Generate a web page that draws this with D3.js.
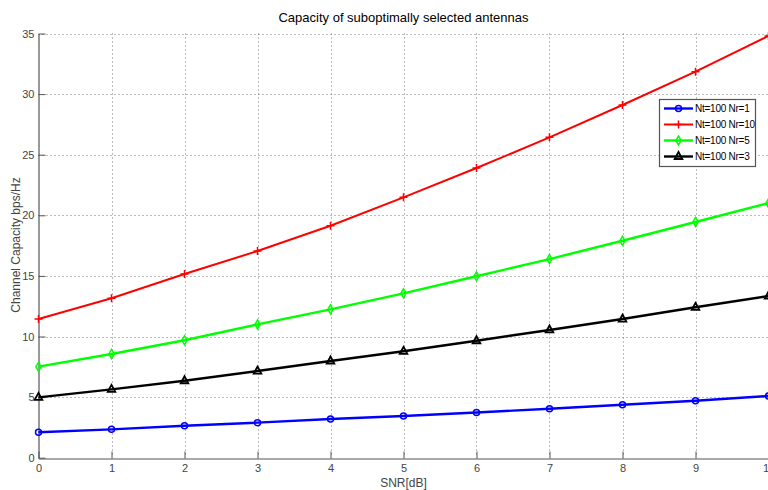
<!DOCTYPE html>
<html>
<head>
<meta charset="utf-8">
<script src="https://cdn.jsdelivr.net/npm/d3@7"></script>
<style>
  html, body { margin: 0; padding: 0; background: #fff; overflow: hidden; }
  svg { display: block; font-family: "Liberation Sans", Arial, sans-serif; }
</style>
</head>
<body>
<script>
// data
const snr = [0, 1, 2, 3, 4, 5, 6, 7, 8, 9, 10];
const nr1 = [2.10, 2.34, 2.64, 2.89, 3.19, 3.44, 3.73, 4.04, 4.37, 4.70, 5.09];
const nr10 = [11.44, 13.15, 15.16, 17.05, 19.14, 21.48, 23.9, 26.43, 29.1, 31.85, 34.8];
const nr5 = [7.51, 8.56, 9.69, 11.0, 12.24, 13.56, 14.97, 16.39, 17.9, 19.45, 21.0];
const nr3 = [4.98, 5.64, 6.35, 7.15, 7.98, 8.78, 9.65, 10.54, 11.44, 12.41, 13.34];
const seriesNames = ["Nt=100 Nr=1", "Nt=100 Nr=10", "Nt=100 Nr=5", "Nt=100 Nr=3"];
const xTicks = [0, 1, 2, 3, 4, 5, 6, 7, 8, 9, 10];
const yTicks = [0, 5, 10, 15, 20, 25, 30, 35];

const width = 768, height = 490;
const svg = d3.select("body").append("svg")
              .attr("width", width)
              .attr("height", height);

const x = d3.scaleLinear().domain([0, 10]).range([38.5, 768.5]),
      y = d3.scaleLinear().domain([0, 35]).range([457.7, 33.5]);

const series = [
  {name: seriesNames[0], values: nr1, color: "#0000ff", marker: "circle", lw: 2.4},
  {name: seriesNames[1], values: nr10, color: "#ff0000", marker: "plus", lw: 2},
  {name: seriesNames[2], values: nr5, color: "#00ff00", marker: "diamond", lw: 2.4},
  {name: seriesNames[3], values: nr3, color: "#000000", marker: "triangle", lw: 2.4}
];

// grid
const grid = svg.append("g").attr("class", "grid")
                .attr("stroke", "#777").attr("stroke-width", 1)
                .attr("stroke-dasharray", "1,3");
grid.selectAll("line.gx").data(xTicks.slice(1)).join("line")
    .attr("x1", d => Math.round(x(d)) + 0.5).attr("x2", d => Math.round(x(d)) + 0.5)
    .attr("y1", y(35)).attr("y2", y(0));
grid.selectAll("line.gy").data(yTicks.slice(1)).join("line")
    .attr("x1", x(0)).attr("x2", x(10))
    .attr("y1", d => Math.round(y(d)) + 0.5).attr("y2", d => Math.round(y(d)) + 0.5);

// axes (ticks point inward)
const xAxis = svg.append("g")
  .attr("transform", "translate(0," + (Math.round(y(0)) + 0.5) + ")")
  .call(d3.axisBottom(x).tickValues(xTicks).tickSize(-7).tickPadding(6).tickSizeOuter(0));
const yAxis = svg.append("g")
  .attr("transform", "translate(" + x(0) + ",0)")
  .call(d3.axisLeft(y).tickValues(yTicks).tickSize(-7).tickPadding(4).tickSizeOuter(0));

[xAxis, yAxis].forEach(a => {
  a.select(".domain").attr("stroke", "#555").attr("stroke-width", 1.2);
  a.selectAll(".tick line").attr("stroke", "#555");
  a.selectAll(".tick text").attr("fill", "#444")
   .style("font-family", "'Liberation Sans', Arial, sans-serif")
   .style("font-size", "11px");
});

// lines
const line = d3.line().x((d, i) => x(snr[i])).y(d => y(d));

function drawMarker(g, type, cx, cy, color) {
  if (type === "circle") {
    g.append("circle").attr("cx", cx).attr("cy", cy).attr("r", 3)
     .attr("fill", "none").attr("stroke", color).attr("stroke-width", 1.5);
  } else if (type === "plus") {
    g.append("path").attr("d", `M${cx - 4},${cy}H${cx + 4}M${cx},${cy - 4}V${cy + 4}`)
     .attr("stroke", color).attr("stroke-width", 1.5);
  } else if (type === "diamond") {
    g.append("path").attr("d", `M${cx},${cy - 4.5}L${cx + 2.6},${cy}L${cx},${cy + 4.5}L${cx - 2.6},${cy}Z`)
     .attr("fill", "none").attr("stroke", color).attr("stroke-width", 1.5);
  } else {
    g.append("path").attr("d", `M${cx},${cy - 4.5}L${cx + 3.8},${cy + 2.5}L${cx - 3.8},${cy + 2.5}Z`)
     .attr("fill", "none").attr("stroke", color).attr("stroke-width", 1.8);
  }
}

series.forEach(s => {
  const g = svg.append("g");
  g.append("path").attr("d", line(s.values))
   .attr("fill", "none").attr("stroke", s.color).attr("stroke-width", s.lw);
  s.values.forEach((v, i) => drawMarker(g, s.marker, x(snr[i]), y(v), s.color));
});

// title and labels
svg.append("text").attr("x", 403.5).attr("y", 22).attr("text-anchor", "middle")
   .attr("font-size", 13).attr("fill", "#000")
   .text("Capacity of suboptimally selected antennas");
svg.append("text").attr("x", 403.5).attr("y", 487).attr("text-anchor", "middle")
   .attr("font-size", 12).attr("fill", "#444").text("SNR[dB]");
svg.append("text").attr("transform", "translate(20,245) rotate(-90)")
   .attr("text-anchor", "middle").attr("font-size", 12).attr("fill", "#444")
   .text("Channel Capacity bps/Hz");

// legend
const legend = svg.append("g").attr("transform", "translate(659,99)");
legend.append("rect").attr("x", 0.5).attr("y", 0.5).attr("width", 96).attr("height", 67)
      .attr("fill", "#fff").attr("stroke", "#555").attr("stroke-width", 1.2);
series.forEach((s, i) => {
  const ly = 9.5 + i * 16;
  legend.append("line").attr("x1", 5).attr("x2", 34).attr("y1", ly).attr("y2", ly)
        .attr("stroke", s.color).attr("stroke-width", s.lw);
  drawMarker(legend, s.marker, 19.5, ly, s.color);
  legend.append("text").attr("x", 36).attr("y", ly + 3.6)
        .attr("font-size", 10).attr("letter-spacing", -0.25)
        .attr("fill", "#000").text(s.name);
});
</script>
</body>
</html>
